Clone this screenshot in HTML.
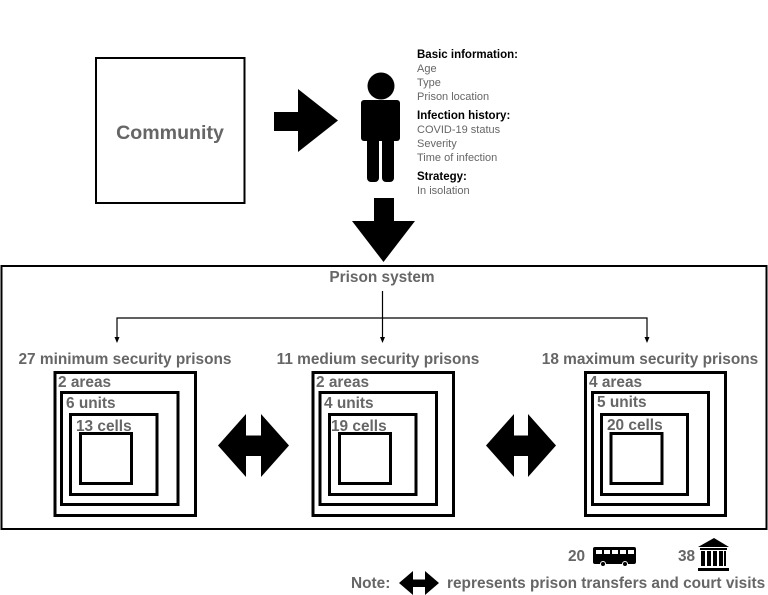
<!DOCTYPE html>
<html><head><meta charset="utf-8"><style>
html,body{margin:0;padding:0;background:#fff}
svg{display:block}
text{font-family:"Liberation Sans",sans-serif}
.g{fill:#666;font-weight:bold;font-size:15.400px}
.t{fill:#666;font-size:11px}
.b{fill:#000;font-weight:bold;font-size:11.500px}
rect.s{fill:none;stroke:#000;stroke-width:3}
</style></head><body>
<svg width="768" height="595" viewBox="0 0 768 595" xmlns="http://www.w3.org/2000/svg">
<rect x="96" y="58" width="148.500" height="145" fill="none" stroke="#000" stroke-width="2"/>
<text x="170" y="139" text-anchor="middle" fill="#666" font-weight="bold" font-size="19.600">Community</text>
<polygon points="274,112 298,112 298,89 338,120.500 298,152 298,131 274,131"/>
<circle cx="381" cy="86" r="13.500"/>
<rect x="361" y="100" width="39" height="41" rx="3"/>
<rect x="367" y="130" width="12" height="52" rx="4"/>
<rect x="382" y="130" width="12" height="52" rx="4"/>
<polygon points="374,198 394,198 394,221 415,221 383.500,262 352,221 374,221"/>
<text class="b" x="417" y="58">Basic information:</text>
<text class="t" x="417" y="72">Age</text>
<text class="t" x="417" y="86">Type</text>
<text class="t" x="417" y="100">Prison location</text>
<text class="b" x="417" y="119">Infection history:</text>
<text class="t" x="417" y="133">COVID-19 status</text>
<text class="t" x="417" y="147">Severity</text>
<text class="t" x="417" y="161">Time of infection</text>
<text class="b" x="417" y="180">Strategy:</text>
<text class="t" x="417" y="194">In isolation</text>
<rect x="1.500" y="266" width="765" height="263" fill="none" stroke="#000" stroke-width="2"/>
<text class="g" x="382" y="282" text-anchor="middle">Prison system</text>
<path d="M382.500 291V338M117 338V318H647V338" fill="none" stroke="#000" stroke-width="1.200"/>
<polygon points="114.500,337 119.500,337 117,343"/>
<polygon points="380,337 385,337 382.500,343"/>
<polygon points="644.500,337 649.500,337 647,343"/>
<text class="g" x="125" y="364" text-anchor="middle">27 minimum security prisons</text>
<text class="g" x="378" y="364" text-anchor="middle">11 medium security prisons</text>
<text class="g" x="650" y="364" text-anchor="middle">18 maximum security prisons</text>
<rect class="s" x="55" y="372.500" width="140.500" height="143"/>
<rect class="s" x="61.500" y="392.500" width="116.500" height="112"/>
<rect class="s" x="70.500" y="414.500" width="86.500" height="80"/>
<rect class="s" x="80.500" y="433.500" width="51" height="50"/>
<text class="g" x="58" y="387">2 areas</text>
<text class="g" x="66" y="408">6 units</text>
<text class="g" x="76" y="431">13 cells</text>
<rect class="s" x="313" y="372.500" width="140.500" height="143"/>
<rect class="s" x="320" y="392.500" width="116.500" height="112"/>
<rect class="s" x="329.500" y="414.500" width="86.500" height="80"/>
<rect class="s" x="339.500" y="433.500" width="51" height="50"/>
<text class="g" x="316" y="387">2 areas</text>
<text class="g" x="324" y="408">4 units</text>
<text class="g" x="331" y="431">19 cells</text>
<rect class="s" x="585.500" y="372.500" width="140" height="143"/>
<rect class="s" x="592.500" y="392.500" width="116" height="112"/>
<rect class="s" x="601.500" y="414.500" width="86" height="80"/>
<rect class="s" x="611" y="433.500" width="51" height="50"/>
<text class="g" x="589" y="387">4 areas</text>
<text class="g" x="597" y="407">5 units</text>
<text class="g" x="607" y="430">20 cells</text>
<polygon points="218,445.500 246,414 246,435.500 261,435.500 261,414 289,445.500 261,477 261,456 246,456 246,477"/>
<polygon points="486,445.500 514,414 514,435.500 528,435.500 528,414 556,445.500 528,477 528,456 514,456 514,477"/>
<text class="g" x="568" y="561">20</text>
<rect x="593" y="547" width="43" height="17" rx="2"/>
<g fill="#fff"><rect x="596" y="550" width="6" height="4"/><rect x="604" y="550" width="6" height="4"/><rect x="612" y="550" width="6" height="4"/><rect x="620" y="550" width="6" height="4"/><rect x="628" y="550" width="6" height="4"/></g>
<circle cx="603" cy="564" r="2.500" stroke="#fff"/><circle cx="625" cy="564" r="2.500" stroke="#fff"/>
<text class="g" x="678" y="561">38</text>
<polygon points="698,547 714,538 729,547"/>
<rect x="700" y="548" width="27" height="2"/>
<rect x="701" y="551" width="4" height="15"/><rect x="707" y="551" width="4" height="15"/><rect x="713" y="551" width="4" height="15"/><rect x="719" y="551" width="4" height="15"/>
<rect x="724" y="551" width="2" height="15"/>
<rect x="698" y="568" width="31" height="3"/>
<text class="g" x="351" y="588">Note:</text>
<polygon points="399,583 413,571 413,579.500 425,579.500 425,571 439,583 425,595 425,587 413,587 413,595"/>
<text class="g" x="447" y="588">represents prison transfers and court visits</text>
</svg>
</body></html>
